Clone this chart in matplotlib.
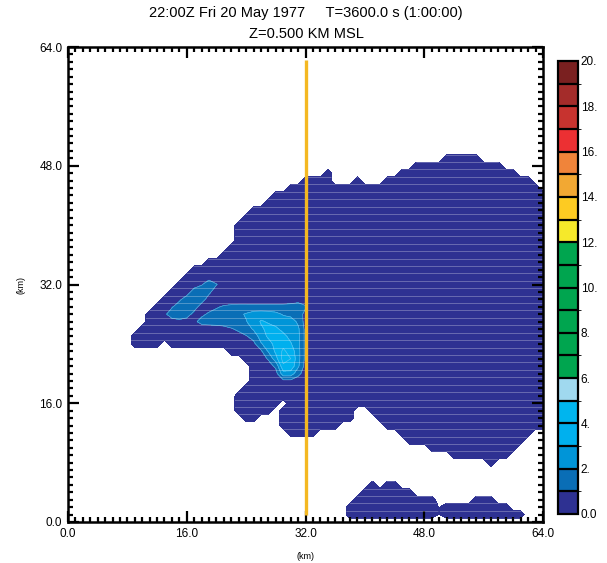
import numpy as np
import matplotlib.pyplot as plt
from matplotlib.colors import ListedColormap, BoundaryNorm
from matplotlib.collections import LineCollection
from matplotlib.ticker import MultipleLocator

plt.rcParams['font.family'] = ['Liberation Sans', 'DejaVu Sans']

# echo area on a 1 km grid: (row y, first x, last x) of grid nodes with echo
echo_runs = [
    (49, 51, 55), (48, 47, 58), (47, 35, 35), (47, 45, 60),
    (46, 32, 35), (46, 39, 39), (46, 43, 62), (45, 30, 63),
    (44, 28, 64), (43, 27, 64), (42, 25, 64), (41, 24, 64),
    (40, 23, 64), (39, 23, 64), (38, 23, 64), (37, 22, 64),
    (36, 21, 64), (35, 19, 64), (34, 17, 64), (33, 16, 64),
    (32, 15, 64), (31, 14, 64), (30, 13, 64), (29, 12, 64),
    (28, 11, 64), (27, 11, 64), (26, 10, 64), (25, 9, 64),
    (24, 9, 12), (24, 14, 64), (23, 22, 64), (22, 24, 64),
    (21, 25, 64), (20, 25, 64), (19, 25, 64), (18, 24, 64),
    (17, 23, 64), (16, 23, 28), (16, 30, 64), (15, 23, 27),
    (15, 29, 38), (15, 41, 64), (14, 24, 25), (14, 29, 38),
    (14, 42, 64), (13, 29, 36), (13, 43, 64), (12, 30, 33),
    (12, 45, 62), (11, 46, 61), (10, 49, 60), (9, 52, 59),
    (8, 57, 57),
    (5, 41, 41), (5, 43, 44), (4, 40, 46), (3, 39, 49),
    (3, 55, 57), (2, 38, 49), (2, 51, 59), (1, 38, 49), (1, 51, 61),
]
gap_cells = [(50, 1), (50, 2)]

# stronger echo core, rows y=32..19, columns x=13..32
core_x0 = 13
core_rows = [32, 31, 30, 29, 28, 27, 26, 25, 24, 23, 22, 21, 20, 19]
core_vals = [
    [.5, .5, .5, .5, .5, .9, 1.7, 1.05, .5, .5, .5, .5, .5, .5, .5, .5, .5, .5, .5, .5],
    [.5, .5, .5, .5, 1.5, 1.8, 1.2, .5, .5, .5, .5, .5, .5, .5, .5, .5, .5, .5, .5, .5],
    [.5, .5, .8, 1.5, 1.8, 1.4, .6, .5, .5, .5, .5, .5, .5, .5, .5, .5, .5, .5, .5, .5],
    [.5, .9, 1.5, 1.8, 1.4, .6, .6, .9, 1.1, 1.2, 1.25, 1.25, 1.2, 1.2, 1.2, 1.2, 1.25, 1.35, 1.6, 1.1],
    [.8, 1.5, 1.7, 1.4, .7, .8, 1.15, 1.3, 1.5, 1.6, 1.8, 2.1, 2.5, 2.6, 2.5, 2.3, 1.9, 1.7, 1.5, .7],
    [.5, .6, .7, .6, .8, 1.3, 1.4, 1.5, 1.6, 1.7, 1.8, 1.95, 2.4, 3.1, 2.9, 2.6, 2.5, 2.5, 1.8, .6],
    [.5, .5, .5, .5, .5, .5, .5, .5, .6, .9, 1.2, 1.6, 2.1, 2.8, 3.3, 3.2, 2.7, 2.5, 2.2, .7],
    [.5, .5, .5, .5, .5, .5, .5, .5, .5, .5, .6, .9, 1.4, 2.4, 3.2, 3.5, 3.3, 2.7, 2.3, .7],
    [.5, .5, .5, .5, .5, .5, .5, .5, .5, .5, .5, .6, .7, 1.9, 2.5, 3.4, 3.7, 3.1, 2.3, .7],
    [.5, .5, .5, .5, .5, .5, .5, .5, .5, .5, .5, .5, .6, .8, 2.1, 3.2, 4.2, 3.6, 2.4, .7],
    [.5, .5, .5, .5, .5, .5, .5, .5, .5, .5, .5, .5, .5, .6, 1.1, 2.6, 4.4, 4.0, 2.4, .7],
    [.5, .5, .5, .5, .5, .5, .5, .5, .5, .5, .5, .5, .5, .5, .6, 1.2, 3.8, 3.7, 2.2, .6],
    [.5, .5, .5, .5, .5, .5, .5, .5, .5, .5, .5, .5, .5, .5, .5, .6, 2.6, 2.6, 1.3, .5],
    [.5, .5, .5, .5, .5, .5, .5, .5, .5, .5, .5, .5, .5, .5, .5, .5, .7, .7, .5, .5],
]

levels = list(range(0, 21))
colors = ['#2e3192', '#0a6eb6', '#0095d8', '#00b0ee', '#00b5ee', '#a0d9ef',
          '#00a54f', '#00a54f', '#00a54f', '#00a54f', '#00a54f', '#00a54f',
          '#f6e92a', '#fdcb22', '#f2a833', '#f0843a', '#ec3033', '#c7332f',
          '#a42c2a', '#7a2020']
cbar_ticks = list(range(0, 21, 2))
cbar_labels = ['0.0'] + [f'{t}.' for t in cbar_ticks[1:]]

section_x = 32.0
section_y = [1.0, 62.3]

# ---------------------------------------------------------------- grid
xg = np.arange(0, 65)
yg = np.arange(0, 65)
Z = np.full((65, 65), -0.5)
for y, x0, x1 in echo_runs:
    Z[y, x0:x1 + 1] = 0.5
for row, vals in zip(core_rows, core_vals):
    seg = Z[row, core_x0:core_x0 + len(vals)]
    Z[row, core_x0:core_x0 + len(vals)] = np.where(seg > 0, vals, seg)
for gx, gy in gap_cells:
    Z[gy, gx] = -0.05

cmap = ListedColormap(colors)
norm = BoundaryNorm(levels, cmap.N)

fig = plt.figure(figsize=(6.07, 5.63), dpi=100)
ax = fig.add_axes([68 / 607, 1 - 522 / 563, 475 / 607, 475 / 563])

cs = ax.contourf(xg, yg, Z, levels=levels, cmap=cmap, norm=norm)
ax.contour(xg, yg, Z, levels=[1, 2, 3, 4], colors='#9fcdf2', linewidths=0.5, alpha=0.6)

# faint row seams inside the filled area
clip = ax.contourf(xg, yg, Z, levels=[0, 50], colors='none')
clip_path = clip.get_paths()[0]
seams = LineCollection([[(0, y + 0.5), (64, y + 0.5)] for y in yg[:-1]],
                       colors='white', linewidths=0.7, alpha=0.28)
ax.add_collection(seams)
seams.set_clip_path(clip_path, ax.transData)

ax.plot([section_x, section_x], section_y, color='#f4b822', lw=2.4, solid_capstyle='butt')

ax.set_xlim(0, 64)
ax.set_ylim(0, 64)
ax.set_xticks(range(0, 65, 16))
ax.set_yticks(range(0, 65, 16))
ax.set_xticklabels([f'{v:.1f}' for v in range(0, 65, 16)])
ax.set_yticklabels([f'{v:.1f}' for v in range(0, 65, 16)])
ax.xaxis.set_minor_locator(MultipleLocator(1))
ax.yaxis.set_minor_locator(MultipleLocator(1))
ax.tick_params(which='both', direction='in', top=True, right=True, labelsize=8.5, pad=4)
ax.tick_params(which='major', length=8, width=1.6)
ax.tick_params(which='minor', length=3.5, width=1.6)
for s in ax.spines.values():
    s.set_linewidth(1.8)
ax.set_xlabel('(km)', fontsize=6.5, labelpad=9)
ax.set_ylabel('(km)', fontsize=6.5, labelpad=10)

fig.text(306 / 607, 1 - 13 / 563, '22:00Z Fri 20 May 1977     T=3600.0 s (1:00:00)',
         ha='center', va='center', fontsize=10.5)
fig.text(306 / 607, 1 - 34 / 563, 'Z=0.500 KM MSL', ha='center', va='center', fontsize=10.5)

cax = fig.add_axes([558 / 607, 1 - 514 / 563, 20 / 607, 453 / 563])
cb = fig.colorbar(cs, cax=cax, ticks=cbar_ticks, drawedges=True)
cb.set_ticklabels(cbar_labels)
cb.outline.set_linewidth(1.6)
cb.dividers.set_linewidth(1.6)
cax.tick_params(length=0, labelsize=8.5, pad=2)

fig.savefig('out.png', dpi=100)
